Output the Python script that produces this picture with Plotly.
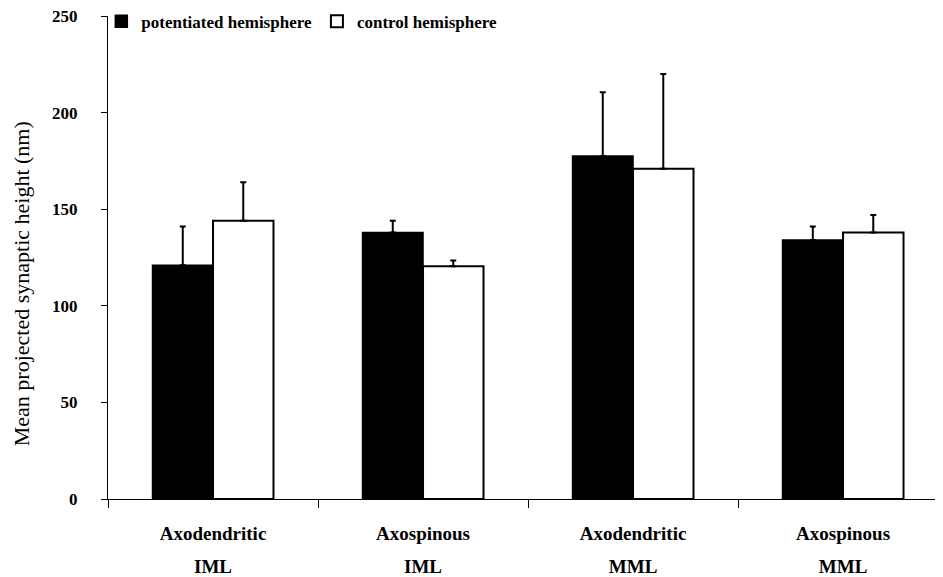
import plotly.graph_objects as go

categories = ["Axodendritic IML", "Axospinous IML", "Axodendritic MML", "Axospinous MML"]
tick_line1 = ["Axodendritic", "Axospinous", "Axodendritic", "Axospinous"]
tick_line2 = ["IML", "IML", "MML", "MML"]
potentiated = [121, 138, 177.5, 134]
potentiated_err = [20, 6, 33, 7]
control = [144, 120.5, 171, 138]
control_err = [20, 3, 49, 9]
y_ticks = [0, 50, 100, 150, 200, 250]

FONT = "Liberation Serif"
SPAN = "<span style='font-size:19px'>{}</span>"
tick_text = [SPAN.format(a) + "<br><br>" + SPAN.format(b) for a, b in zip(tick_line1, tick_line2)]

fig = go.Figure()
fig.add_trace(go.Bar(
    x=categories, y=potentiated, name="potentiated hemisphere",
    marker=dict(color="black", line=dict(color="black", width=1.5)),
    error_y=dict(type="data", symmetric=False, array=potentiated_err,
                 arrayminus=[0]*4, color="black", thickness=2, width=3),
))
fig.add_trace(go.Bar(
    x=categories, y=control, name="control hemisphere",
    marker=dict(color="white", line=dict(color="black", width=2)),
    error_y=dict(type="data", symmetric=False, array=control_err,
                 arrayminus=[0]*4, color="black", thickness=2, width=3),
))

fig.update_layout(
    width=935, height=569,
    margin=dict(l=100, r=0, t=8, b=78, autoexpand=False),
    paper_bgcolor="white", plot_bgcolor="white",
    barmode="group", bargap=0.424, bargroupgap=0,
    font=dict(family=FONT, color="black"),
    legend=dict(orientation="h", x=-0.008, y=0.988, xanchor="left", yanchor="middle",
                font=dict(family=FONT, size=17, color="black", weight="bold"),
                bgcolor="rgba(0,0,0,0)", itemwidth=30),
    showlegend=True,
    annotations=[dict(text="Mean projected synaptic height (nm)", textangle=-90,
                      xref="paper", yref="paper", x=-0.104, y=0.445,
                      xanchor="center", yanchor="middle", showarrow=False,
                      font=dict(family=FONT, size=22, color="black"))],
)
fig.update_xaxes(
    type="category", range=[-0.5, 3.476], automargin=False,
    tickmode="array", tickvals=categories, ticktext=tick_text,
    tickson="boundaries", ticks="outside", ticklen=8, tickcolor="black", tickwidth=1,
    showline=True, linecolor="black", linewidth=1,
    showgrid=False, zeroline=False, ticklabelstandoff=24,
    tickfont=dict(family=FONT, size=13, color="black", weight="bold"),
)
fig.update_yaxes(
    range=[0, 250], tickvals=y_ticks, automargin=False,
    ticks="outside", ticklen=6, tickcolor="black", tickwidth=1,
    showline=True, linecolor="black", linewidth=1,
    showgrid=False, zeroline=False, ticklabelstandoff=20,
    ticklabeloverflow="allow",
    tickfont=dict(family=FONT, size=17, color="black", weight="bold"),
)

fig.write_html("out.html")
